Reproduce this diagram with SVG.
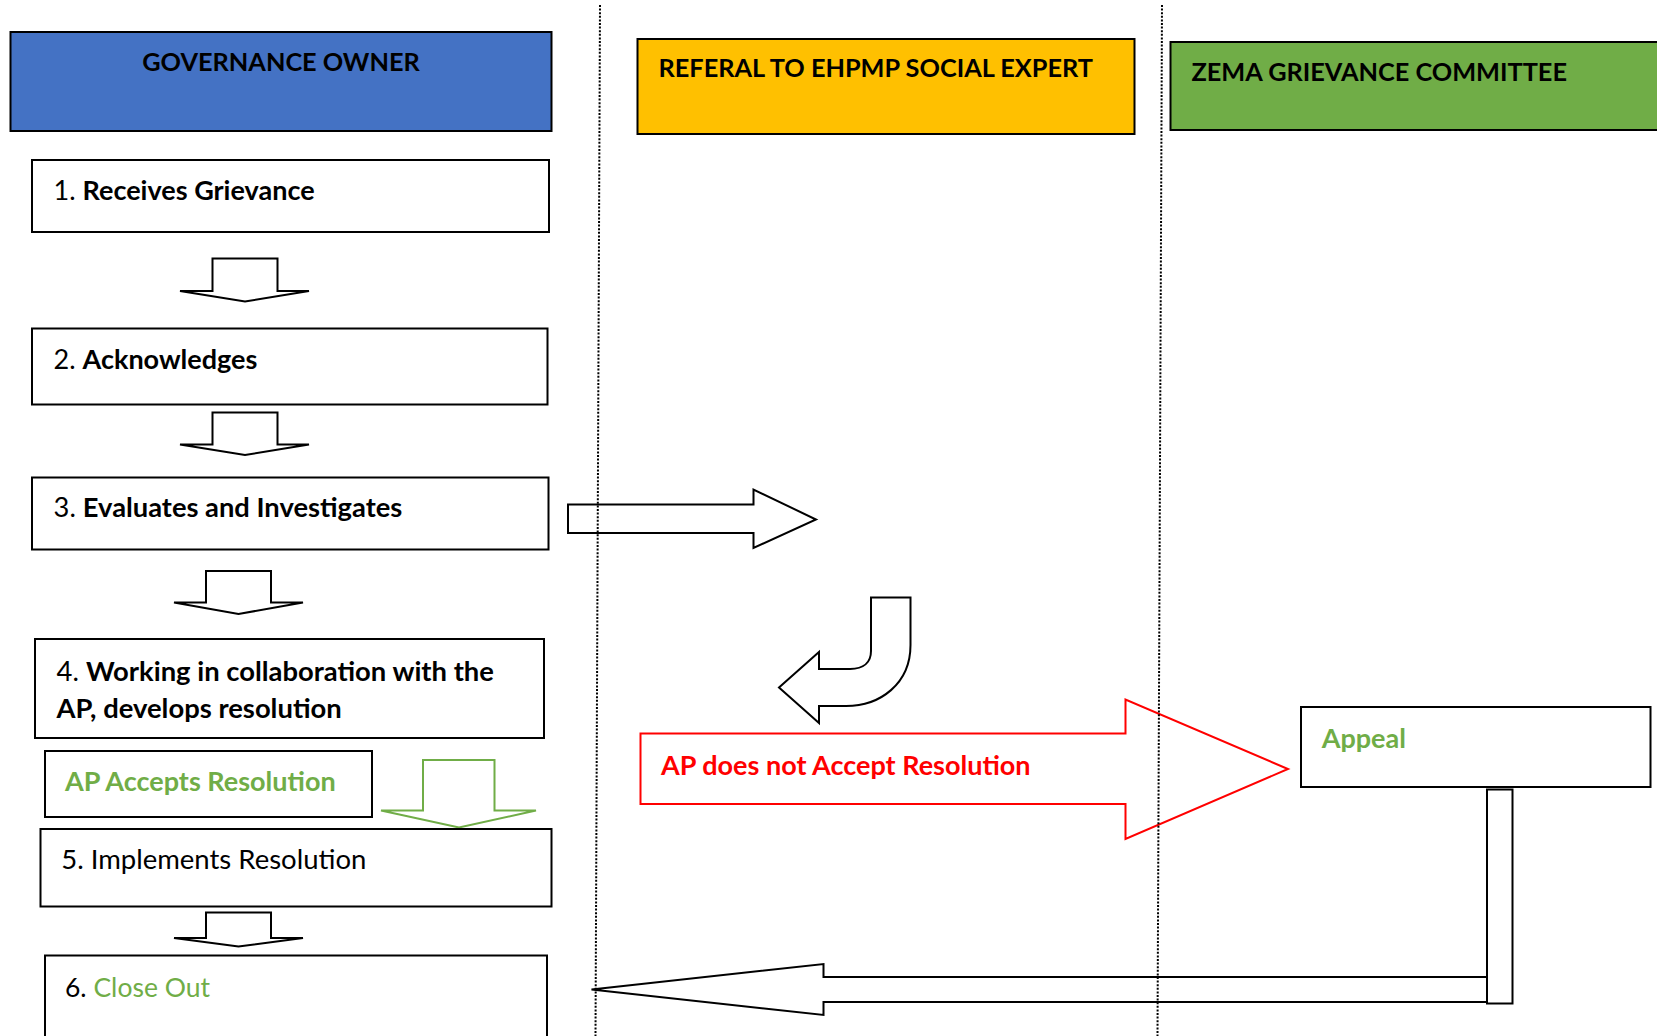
<svg xmlns="http://www.w3.org/2000/svg" width="1657" height="1036" viewBox="0 0 1657 1036">
<style>
.box{fill:#fff;stroke:#000;stroke-width:2}
.hdr{stroke:#000;stroke-width:2}
.arr{fill:#fff;stroke:#000;stroke-width:2;stroke-linejoin:miter}
.t{font-family:Lato,"Liberation Sans",sans-serif;font-size:27px;fill:#000}
.h{font-size:25.3px}
.b{font-weight:bold}
.g{fill:#70AD47}
.r{fill:#FF0000}
.dot{stroke:#000;stroke-width:2;stroke-dasharray:2 1.6;fill:none}
</style>
<rect width="1657" height="1036" fill="#fff"/>
<g id="lane-governance">
<rect class="hdr" x="10.5" y="32" width="541" height="99" fill="#4472C4"/>
<text class="t h b" x="281" y="71" text-anchor="middle">GOVERNANCE OWNER</text>
</g>
<g id="lane-referal">
<rect class="hdr" x="637.5" y="39" width="497" height="95" fill="#FFC000"/>
<text class="t h b" x="658.5" y="77">REFERAL TO EHPMP SOCIAL EXPERT</text>
</g>
<g id="lane-zema">
<rect class="hdr" x="1170.5" y="42" width="500" height="88" fill="#70AD47"/>
<text class="t h b" x="1191.5" y="81">ZEMA GRIEVANCE COMMITTEE</text>
</g>
<g id="connectors">
<polygon class="arr" points="212.5,258.5 277.5,258.5 277.5,291 309,291 245,301.5 180,291 212.5,291"/>
<polygon class="arr" points="212.5,412.5 277.5,412.5 277.5,444.5 309,444.5 245,455 180,444.5 212.5,444.5"/>
<polygon class="arr" points="206,571 271,571 271,602.5 303,602.5 238.5,614 174,602.5 206,602.5"/>
<polygon class="arr" points="206,912.5 271,912.5 271,938 303,938 238.5,946.5 174,938 206,938"/>
<polygon class="arr" style="stroke:#70AD47" points="423,760 494.5,760 494.5,810.5 536,810.5 459,827.5 381,810.5 423,810.5"/>
<polygon class="arr" points="568,504.5 753.5,504.5 753.5,489.5 816,519.5 753.5,548 753.5,533 568,533"/>
<path class="arr" d="M871,597.5 L910.5,597.5 L910.5,645 C910.5,684 880,706 846,706 L819,706 L819,723 L779,687.5 L819,652 L819,669 L850,669 C864,669 871,662 871,651 Z"/>
<polygon class="arr" style="stroke:#FF0000" points="640.5,733.5 1125.5,733.5 1125.5,699.5 1288,769 1125.5,839 1125.5,804 640.5,804"/>
<polygon class="arr" points="591.5,989.5 823.5,964 823.5,977 1487,977 1487,1002 823.5,1002 823.5,1015"/>
<rect class="box" x="1487" y="789.5" width="25.5" height="214"/>
</g>
<g id="n1">
<rect class="box" x="32" y="160" width="517" height="72"/>
<text class="t" x="53.6" y="200">1. <tspan class="b">Receives Grievance</tspan></text>
</g>
<g id="n2">
<rect class="box" x="32" y="328.5" width="515.5" height="76"/>
<text class="t" x="53.6" y="368.5">2. <tspan class="b">Acknowledges</tspan></text>
</g>
<g id="n3">
<rect class="box" x="32" y="477.5" width="516.5" height="72"/>
<text class="t" x="53.6" y="516.5" style="font-size:27.3px">3. <tspan class="b">Evaluates and Investigates</tspan></text>
</g>
<g id="n4">
<rect class="box" x="35" y="639" width="509" height="99"/>
<text class="t" x="56.6" y="680.5" style="font-size:27.4px">4. <tspan class="b">Working in collaboration with the</tspan></text>
<text class="t b" x="56.6" y="717.5" style="font-size:27.4px">AP, develops resolution</text>
</g>
<g id="n-accepts">
<rect class="box" x="45" y="751" width="327" height="66"/>
<text class="t b g" x="65" y="790.5">AP Accepts Resolution</text>
</g>
<g id="n5">
<rect class="box" x="40.5" y="829" width="511" height="77.5"/>
<text class="t" x="61.2" y="868.5" style="font-size:27.5px">5. Implements Resolution</text>
</g>
<g id="n6">
<rect class="box" x="45" y="955.5" width="502" height="100"/>
<text class="t" x="65" y="996.5" style="font-size:26.5px">6. <tspan class="g">Close Out</tspan></text>
</g>
<g id="n-not-accept">
<text class="t b r" x="661" y="774.5">AP does not Accept Resolution</text>
</g>
<g id="n-appeal">
<rect class="box" x="1301" y="707" width="349.5" height="80"/>
<text class="t b g" x="1321.7" y="747.5">Appeal</text>
</g>
<g id="lane-dividers">
<line class="dot" x1="600" y1="5" x2="595.5" y2="1036"/>
<line class="dot" x1="1162" y1="5" x2="1157.5" y2="1036"/>
</g>
</svg>
